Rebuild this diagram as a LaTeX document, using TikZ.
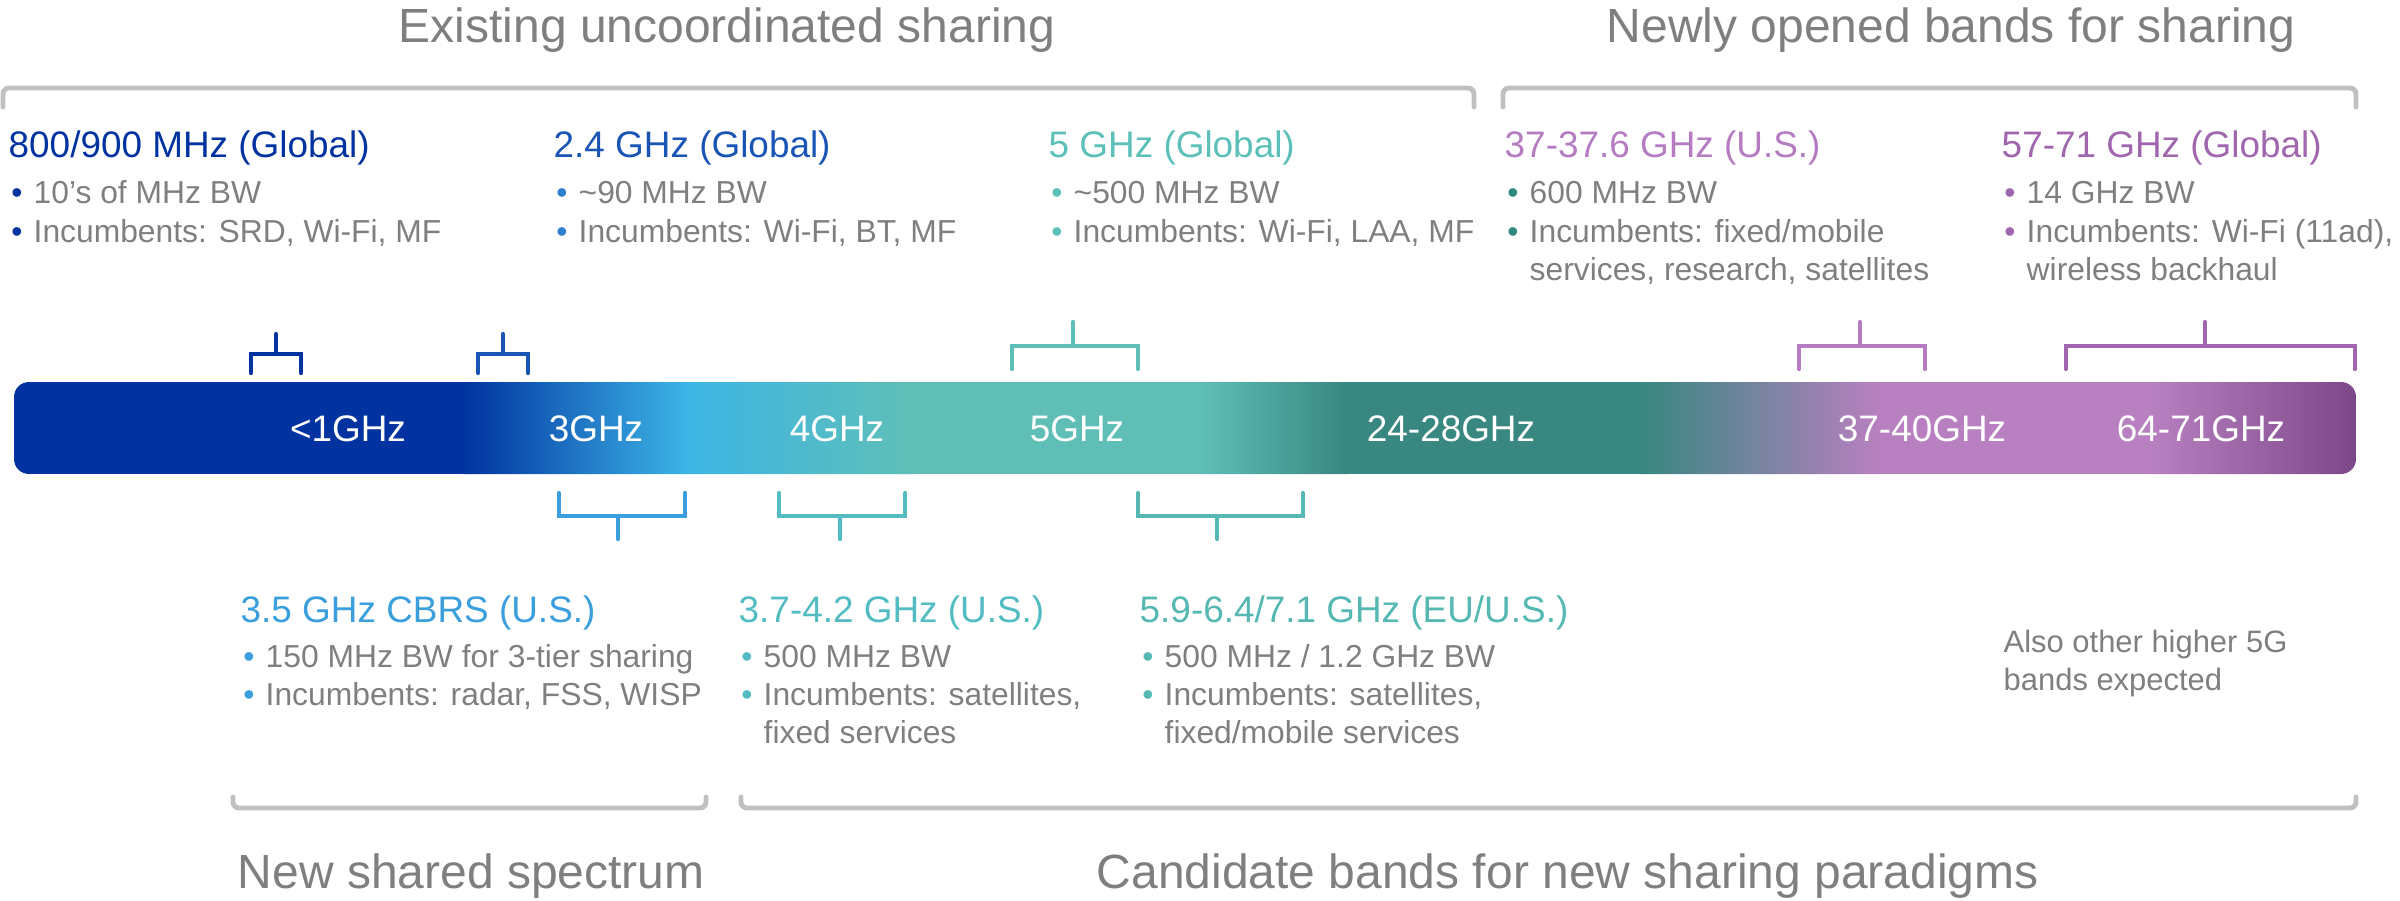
\documentclass[tikz,border=0pt]{standalone}
\usepackage{fontspec}
\setmainfont{Liberation Sans}
\definecolor{txtgray}{HTML}{7F7F7F}
\definecolor{brgray}{HTML}{C0C0C0}
\definecolor{cdblue}{HTML}{0033A0}
\definecolor{cblue}{HTML}{1A55B5}
\definecolor{cblueb}{HTML}{2F7FD0}
\definecolor{clblue}{HTML}{3A9FDC}
\definecolor{cteal}{HTML}{5CC0B9}
\definecolor{ctealb}{HTML}{52BCC2}
\definecolor{ctealc}{HTML}{56B8B2}
\definecolor{cdteal}{HTML}{2D8A7E}
\definecolor{clilac}{HTML}{B57CC2}
\definecolor{cpurple}{HTML}{A066AE}
\definecolor{gA}{HTML}{0033A0}
\definecolor{gB}{HTML}{3DB5E6}
\definecolor{gC}{HTML}{5FBFB7}
\definecolor{gD}{HTML}{388780}
\definecolor{gE}{HTML}{B880C0}
\definecolor{gF}{HTML}{7B4688}
\tikzset{
  ttl/.style={font=\fontsize{13.66}{16}\selectfont, text=txtgray, anchor=base west, inner sep=0pt},
  hdr/.style={font=\fontsize{10.5}{12}\selectfont, anchor=base west, inner sep=0pt},
  bl/.style={font=\fontsize{9.05}{11}\selectfont, text=txtgray, anchor=base west, inner sep=0pt},
  bdot/.style={font=\fontsize{9.05}{11}\selectfont, anchor=base, inner sep=0pt},
  note/.style={font=\fontsize{8.8}{11}\selectfont, text=txtgray, anchor=base west, inner sep=0pt},
  barlbl/.style={font=\fontsize{10.5}{12}\selectfont, text=white, anchor=base, inner sep=0pt},
  gbr/.style={draw=brgray, line width=1.4pt, line cap=round, line join=round, rounded corners=0.6mm},
  sbr/.style={line width=1.2pt, line cap=round},
}
\newcommand\bline[5]{%
  \node[bdot, text=#2] (#1d) at (#3+9,#4) {•};
  \node[bl] (#1) at (#3+25,#4) {#5};}
\begin{document}
\begin{tikzpicture}[x=0.1mm,y=-0.1mm]
\useasboundingbox (0,0) rectangle (2400,900);

% ---- titles
\node[ttl] (t1) at (398,43) {Existing uncoordinated sharing};
\node[ttl] (t2) at (1606,43) {Newly opened bands for sharing};
\node[ttl] (t3) at (237,888) {New shared spectrum};
\node[ttl] (t4) at (1096,888) {Candidate bands for new sharing paradigms};

% ---- grey brackets
\draw[gbr] (3,107) -- (3,88) -- (1474,88) -- (1474,107);
\draw[gbr] (1503,107) -- (1503,88) -- (2356,88) -- (2356,107);
\draw[gbr] (233,797) -- (233,808) -- (706,808) -- (706,797);
\draw[gbr] (741,797) -- (741,808) -- (2356,808) -- (2356,797);

% ---- top blocks
\node[hdr, text=cdblue] (h1) at (8,158) {800/900 MHz (Global)};
\bline{a1}{cdblue}{8}{203}{10’s of MHz BW}
\bline{a2}{cdblue}{8}{242}{Incumbents: SRD, Wi-Fi, MF}

\node[hdr, text=cblue] (h2) at (553,158) {2.4 GHz (Global)};
\bline{b1}{cblueb}{553}{203}{\textasciitilde90 MHz BW}
\bline{b2}{cblueb}{553}{242}{Incumbents: Wi-Fi, BT, MF}

\node[hdr, text=cteal] (h3) at (1048,158) {5 GHz (Global)};
\bline{c1}{cteal}{1048}{203}{\textasciitilde500 MHz BW}
\bline{c2}{cteal}{1048}{242}{Incumbents: Wi-Fi, LAA, MF}

\node[hdr, text=clilac] (h4) at (1504,158) {37-37.6 GHz (U.S.)};
\bline{d1}{cdteal}{1504}{203}{600 MHz BW}
\bline{d2}{cdteal}{1504}{242}{Incumbents: fixed/mobile}
\node[bl] (d3) at (1529,280) {services, research, satellites};

\node[hdr, text=cpurple] (h5) at (2001,158) {57-71 GHz (Global)};
\bline{e1}{cpurple}{2001}{203}{14 GHz BW}
\bline{e2}{cpurple}{2001}{242}{Incumbents: Wi-Fi (11ad),}
\node[bl] (e3) at (2026,280) {wireless backhaul};

% ---- bottom blocks
\node[hdr, text=clblue] (h6) at (240,622) {3.5 GHz CBRS (U.S.)};
\bline{f1}{clblue}{240}{667}{150 MHz BW for 3-tier sharing}
\bline{f2}{clblue}{240}{705}{Incumbents: radar, FSS, WISP}

\node[hdr, text=ctealb] (h7) at (738,622) {3.7-4.2 GHz (U.S.)};
\bline{g1}{ctealb}{738}{667}{500 MHz BW}
\bline{g2}{ctealb}{738}{705}{Incumbents: satellites,}
\node[bl] (g3) at (763,743) {fixed services};

\node[hdr, text=ctealc] (h8) at (1139,622) {5.9-6.4/7.1 GHz (EU/U.S.)};
\bline{k1}{ctealc}{1139}{667}{500 MHz / 1.2 GHz BW}
\bline{k2}{ctealc}{1139}{705}{Incumbents: satellites,}
\node[bl] (k3) at (1164,743) {fixed/mobile services};

\node[note] (n1) at (2003,652) {Also other higher 5G};
\node[note] (n2) at (2003,690) {bands expected};

% ---- spectrum bar
\begin{scope}
\clip[rounded corners=1.5mm] (14,382) rectangle (2356,474);
\fill[gA] (10,382) rectangle (465,474);
\shade[left color=gA, right color=gB] (463,382) rectangle (687,474);
\shade[left color=gB, right color=gC] (685,382) rectangle (912,474);
\fill[gC] (910,382) rectangle (1202,474);
\shade[left color=gC, right color=gD] (1200,382) rectangle (1347,474);
\fill[gD] (1345,382) rectangle (1642,474);
\shade[left color=gD, right color=gE] (1640,382) rectangle (1879,474);
\fill[gE] (1877,382) rectangle (2152,474);
\shade[left color=gE, right color=gF] (2150,382) rectangle (2360,474);
\end{scope}
\node[barlbl] (l1) at (348,441) {<1GHz};
\node[barlbl] (l2) at (596,441) {3GHz};
\node[barlbl] (l3) at (837,441) {4GHz};
\node[barlbl] (l4) at (1077,441) {5GHz};
\node[barlbl] (l5) at (1451,441) {24-28GHz};
\node[barlbl] (l6) at (1922,441) {37-40GHz};
\node[barlbl] (l7) at (2201,441) {64-71GHz};

% ---- small brackets above
\draw[sbr, cdblue] (251,373) -- (251,354) -- (301,354) -- (301,373);
\draw[sbr, cdblue] (276,354) -- (276,334);
\draw[sbr, cblue] (478,373) -- (478,354) -- (528,354) -- (528,373);
\draw[sbr, cblue] (503,354) -- (503,334);
\draw[sbr, cteal] (1012,369) -- (1012,346) -- (1138,346) -- (1138,369);
\draw[sbr, cteal] (1073,346) -- (1073,322);
\draw[sbr, clilac] (1799,369) -- (1799,346) -- (1925,346) -- (1925,369);
\draw[sbr, clilac] (1860,346) -- (1860,322);
\draw[sbr, cpurple] (2066,369) -- (2066,346) -- (2355,346) -- (2355,369);
\draw[sbr, cpurple] (2205,346) -- (2205,322);

% ---- small brackets below
\draw[sbr, clblue] (559,493) -- (559,516) -- (685,516) -- (685,493);
\draw[sbr, clblue] (618,516) -- (618,539);
\draw[sbr, ctealb] (779,493) -- (779,516) -- (905,516) -- (905,493);
\draw[sbr, ctealb] (840,516) -- (840,539);
\draw[sbr, ctealc] (1138,493) -- (1138,516) -- (1303,516) -- (1303,493);
\draw[sbr, ctealc] (1217,516) -- (1217,539);
\end{tikzpicture}
\end{document}
